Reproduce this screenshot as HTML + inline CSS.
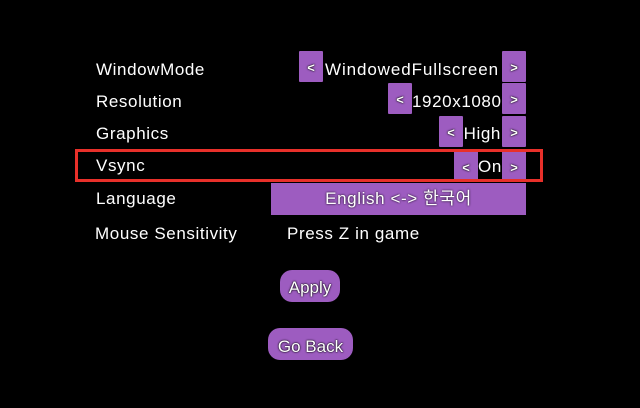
<!DOCTYPE html>
<html><head><meta charset="utf-8"><style>
body{margin:0;width:640px;height:408px;background:#000;overflow:hidden;position:relative;font-family:"Liberation Sans","Noto Sans CJK KR",sans-serif;color:#fff}
.t{position:absolute;font-size:17px;letter-spacing:0.6px;line-height:20px;white-space:nowrap;text-shadow:0 0 1px #000}
.b{position:absolute;background:#9d5cc0;width:24px;height:31px;border-radius:1px;color:#fff;font-size:13px;font-weight:bold;text-align:center;line-height:33px;text-shadow:0 0 2px #000,0 0 1px #000}
.r{position:absolute;background:#9d5cc0;border-radius:12px;font-size:17px;text-align:center;text-shadow:0 0 2px #000,0 0 1px #000}
</style></head><body>
<div class="t" style="left:96px;top:60px">WindowMode</div>
<div class="t" style="left:96px;top:92px">Resolution</div>
<div class="t" style="left:96px;top:124px">Graphics</div>
<div class="t" style="left:96px;top:156px">Vsync</div>
<div class="t" style="left:96px;top:189px">Language</div>
<div class="t" style="left:95px;top:224px">Mouse Sensitivity</div>
<div class="t" style="left:287px;top:224px">Press Z in game</div>

<div class="b" style="left:299px;top:51px">&lt;</div>
<div class="t" style="left:325px;top:60px;width:176px;letter-spacing:0.9px">WindowedFullscreen</div>
<div class="b" style="left:502px;top:51px">&gt;</div>

<div class="b" style="left:388px;top:83px">&lt;</div>
<div class="t" style="left:412px;top:92px;width:88px;text-align:right">1920x1080</div>
<div class="b" style="left:502px;top:83px">&gt;</div>

<div class="b" style="left:439px;top:116px">&lt;</div>
<div class="t" style="left:463px;top:124px;width:38px;text-align:right">High</div>
<div class="b" style="left:502px;top:116px">&gt;</div>

<div class="b" style="left:454px;top:151px">&lt;</div>
<div class="t" style="left:478px;top:157px;width:24px;text-align:center">On</div>
<div class="b" style="left:502px;top:151px">&gt;</div>

<div style="position:absolute;left:271px;top:183px;width:255px;height:32px;background:#9d5cc0"></div>
<div class="t" style="left:271px;top:189px;width:255px;text-align:center;text-shadow:0 0 2px #000">English &lt;-&gt; 한국어</div>

<div style="position:absolute;left:75px;top:149px;width:462px;height:27px;border:3px solid #e8302a"></div>

<div class="r" style="left:280px;top:270px;width:60px;height:32px;line-height:36px">Apply</div>
<div class="r" style="left:268px;top:328px;width:85px;height:32px;line-height:38px">Go Back</div>
</body></html>
